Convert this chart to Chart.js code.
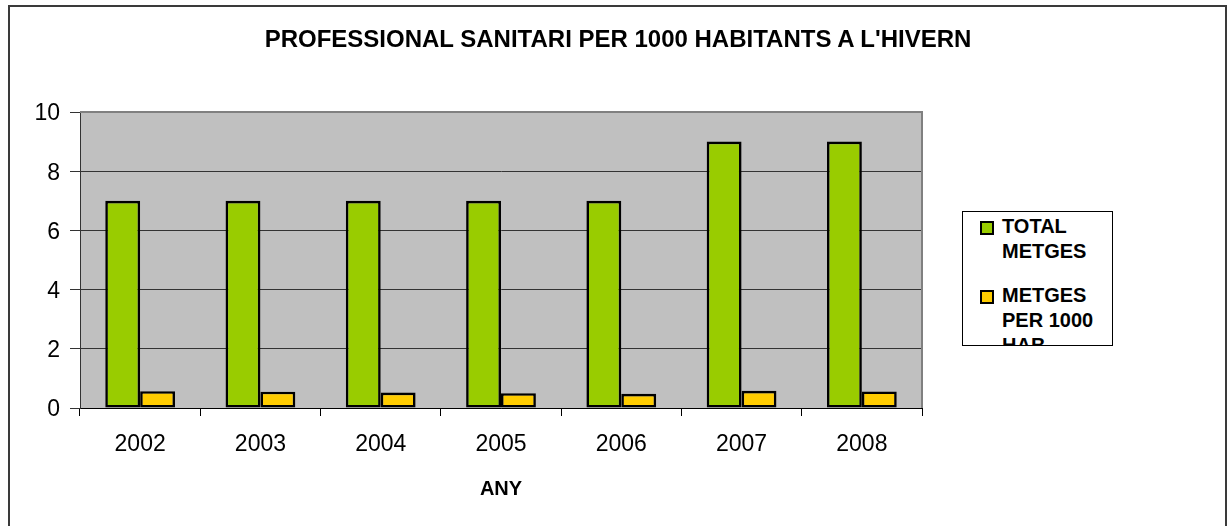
<!DOCTYPE html>
<html>
<head>
    <title>Professional sanitari per 1000 habitants a l'hivern</title>
    <script src="https://cdn.jsdelivr.net/npm/chart.js"></script>
    <style>
        body {
            margin: 0;
            font-family: Arial, "Liberation Sans", sans-serif;
            background: #fff;
        }
        #wrap {
            position: relative;
            width: 1228px;
            height: 526px;
            overflow: hidden;
        }
        #frame {
            position: absolute;
            left: 8px;
            top: 5px;
            width: 1215px;
            height: 540px;
            border: 2px solid #3a3a3a;
        }
        #title {
            position: absolute;
            left: 4px;
            top: 27px;
            width: 1228px;
            text-align: center;
            font-weight: bold;
            font-size: 24px;
            line-height: 24px;
            color: #000;
        }
        #legend {
            position: absolute;
            left: 962px;
            top: 211px;
            width: 151px;
            height: 135px;
            box-sizing: border-box;
            border: 1px solid #000;
            overflow: hidden;
            padding-top: 2px;
            background: #fff;
        }
        .item {
            position: relative;
            padding-left: 39px;
            width: 106px;
            font-weight: bold;
            font-size: 20px;
            line-height: 25px;
            margin-bottom: 19px;
        }
        .item span {
            position: absolute;
            left: 17px;
            top: 7px;
            width: 10px;
            height: 10px;
            border: 2px solid #000;
        }
        canvas {
            position: absolute;
            left: 0;
            top: 0;
        }
    </style>
</head>
<body>
<div id="wrap">
    <div id="frame"></div>
    <canvas id="chart" width="1228" height="526"></canvas>
    <div id="title">PROFESSIONAL SANITARI PER 1000 HABITANTS A L'HIVERN</div>
    <div id="legend"></div>
</div>

<script>
    // data
    const years = ['2002', '2003', '2004', '2005', '2006', '2007', '2008'];
    const totalMetges = [7, 7, 7, 7, 7, 9, 9];
    const metgesPer1000 = [0.57, 0.55, 0.52, 0.5, 0.48, 0.58, 0.56];
    const seriesNames = ['TOTAL METGES', 'METGES PER 1000 HAB'];
    const seriesColors = ['#99CC00', '#FFCC00'];

    // grey plot area with its border
    const plotBg = {
        id: 'plotBg',
        beforeDraw(chart) {
            const { ctx, chartArea: a } = chart;
            ctx.save();
            ctx.fillStyle = '#C0C0C0';
            ctx.fillRect(a.left, a.top, a.right - a.left, a.bottom - a.top);
            ctx.restore();
        },
        afterDatasetsDraw(chart) {
            const { ctx, chartArea: a } = chart;
            ctx.save();
            ctx.strokeStyle = '#808080';
            ctx.lineWidth = 2;
            ctx.beginPath();
            ctx.moveTo(a.left, a.top);
            ctx.lineTo(a.right, a.top);
            ctx.lineTo(a.right, a.bottom);
            ctx.stroke();
            ctx.restore();
        }
    };

    new Chart(document.getElementById('chart').getContext('2d'), {
        type: 'bar',
        data: {
            labels: years,
            datasets: [
                { label: seriesNames[0], data: totalMetges, backgroundColor: seriesColors[0] },
                { label: seriesNames[1], data: metgesPer1000, backgroundColor: seriesColors[1] }
            ]
        },
        options: {
            responsive: false,
            animation: false,
            events: [],
            layout: { padding: { left: 0, right: 306, top: 112, bottom: 0 } },
            datasets: {
                bar: {
                    categoryPercentage: 0.58,
                    barPercentage: 1,
                    borderColor: '#000',
                    borderWidth: 2.6,
                    borderSkipped: false
                }
            },
            plugins: {
                legend: { display: false },
                title: { display: false },
                tooltip: { enabled: false }
            },
            scales: {
                x: {
                    afterFit(scale) { scale.height = 118; },
                    grid: { drawOnChartArea: false, drawTicks: true, tickLength: 8, color: '#000', offset: true },
                    border: { display: true, color: '#000', width: 1 },
                    ticks: { color: '#000', padding: 15, font: { family: 'Arial', size: 23 } },
                    title: {
                        display: true,
                        text: 'ANY',
                        color: '#000',
                        font: { family: 'Arial', size: 20, weight: 'bold' },
                        padding: { top: 0, bottom: 25 }
                    }
                },
                y: {
                    min: 0,
                    max: 10,
                    afterFit(scale) { scale.width = 80; },
                    grid: {
                        color: ctx => (ctx.tick && ctx.tick.value === 10) ? 'rgba(0,0,0,0)' : '#333',
                        tickColor: '#333',
                        tickLength: 10
                    },
                    border: { display: true, color: '#333', width: 1 },
                    ticks: { stepSize: 2, color: '#000', padding: 10, labelOffset: 2, font: { family: 'Arial', size: 23 } }
                }
            }
        },
        plugins: [plotBg]
    });

    // legend box, clipped like the original
    const legend = document.getElementById('legend');
    seriesNames.forEach((name, i) => {
        const item = document.createElement('div');
        item.className = 'item';
        const box = document.createElement('span');
        box.style.background = seriesColors[i];
        item.appendChild(box);
        item.appendChild(document.createTextNode(name));
        legend.appendChild(item);
    });
</script>
</body>
</html>
